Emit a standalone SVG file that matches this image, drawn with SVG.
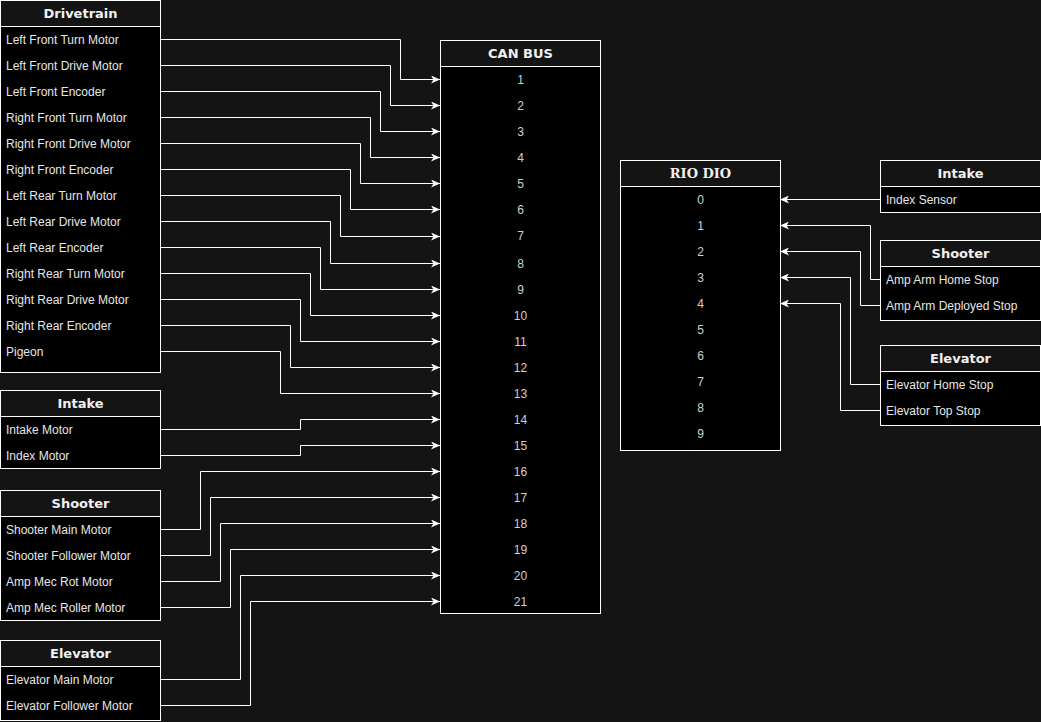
<svg xmlns="http://www.w3.org/2000/svg" width="1041" height="722" viewBox="0 0 1041 722">
<defs>
<marker id="arr" markerWidth="10" markerHeight="8" refX="9" refY="4" orient="auto" markerUnits="userSpaceOnUse">
<path d="M0,0 L9,4 L0,8 L2.5,4 Z" fill="#ffffff"/>
</marker>
<style>
.hdr{fill:#141414;stroke:#ffffff;stroke-width:1}
.body{fill:#000000;stroke:#ffffff;stroke-width:1}
.ht{font-family:"DejaVu Sans",Verdana,sans-serif;font-weight:bold;font-size:13px;fill:#f0f0f0;text-anchor:middle}
.hs{font-family:"DejaVu Serif",serif;font-weight:bold;font-size:13px;fill:#f0f0f0;text-anchor:middle}
.rt{font-family:"Liberation Sans",Arial,sans-serif;font-size:12px;fill:#e6e6e6}
.nt{font-family:"Liberation Sans",Arial,sans-serif;font-size:12px;fill:#d0d0d0;text-anchor:middle}
.c{fill:none;stroke:#ffffff;stroke-width:1}
.ca{fill:none;stroke:#ffffff;stroke-width:1;marker-end:url(#arr)}
</style>
</defs>
<rect width="1041" height="722" fill="#141414"/>

<g id="connectors">
<path class="ca" d="M160,39.5H400.5V79.5H440"/>
<path class="ca" d="M160,65.5H390.5V105.5H440"/>
<path class="ca" d="M160,91.5H380.5V131.5H440"/>
<path class="ca" d="M160,117.5H370.5V157.5H440"/>
<path class="ca" d="M160,143.5H360.5V183.5H440"/>
<path class="ca" d="M160,169.5H350.5V209.5H440"/>
<path class="ca" d="M160,195.5H340.5V236.5H440"/>
<path class="ca" d="M160,221.5H330.5V263.5H440"/>
<path class="ca" d="M160,247.5H320.5V289.5H440"/>
<path class="ca" d="M160,273.5H310.5V315.5H440"/>
<path class="ca" d="M160,299.5H300.5V341.5H440"/>
<path class="ca" d="M160,325.5H290.5V367.5H440"/>
<path class="ca" d="M160,351.5H280.5V393.5H440"/>
<path class="ca" d="M160,429.5H300.5V419.5H440"/>
<path class="ca" d="M160,455.5H300.5V445.5H440"/>
<path class="ca" d="M160,529.5H200.5V471.5H440"/>
<path class="ca" d="M160,555.5H210.5V497.5H440"/>
<path class="ca" d="M160,581.5H220.5V523.5H440"/>
<path class="ca" d="M160,607.5H230.5V549.5H440"/>
<path class="ca" d="M160,679.5H240.5V575.5H440"/>
<path class="ca" d="M160,705.5H250.5V601.5H440"/>
<path class="ca" d="M880,199.5H780"/>
<path class="ca" d="M880,279.5H870.5V225.5H780"/>
<path class="ca" d="M880,305.5H860.5V251.5H780"/>
<path class="ca" d="M880,384.5H850.5V277.5H780"/>
<path class="ca" d="M880,410.5H840.5V303.5H780"/>
</g>

<g id="drivetrain">
<rect class="body" x="0.5" y="26.5" width="160" height="346"/>
<rect class="hdr" x="0.5" y="0.5" width="160" height="26"/>
<text class="ht" x="80.5" y="18">Drivetrain</text>
<text class="rt" x="6" y="44">Left Front Turn Motor</text>
<text class="rt" x="6" y="70">Left Front Drive Motor</text>
<text class="rt" x="6" y="96">Left Front Encoder</text>
<text class="rt" x="6" y="122">Right Front Turn Motor</text>
<text class="rt" x="6" y="148">Right Front Drive Motor</text>
<text class="rt" x="6" y="174">Right Front Encoder</text>
<text class="rt" x="6" y="200">Left Rear Turn Motor</text>
<text class="rt" x="6" y="226">Left Rear Drive Motor</text>
<text class="rt" x="6" y="252">Left Rear Encoder</text>
<text class="rt" x="6" y="278">Right Rear Turn Motor</text>
<text class="rt" x="6" y="304">Right Rear Drive Motor</text>
<text class="rt" x="6" y="330">Right Rear Encoder</text>
<text class="rt" x="6" y="356">Pigeon</text>
</g>

<g id="intake-left">
<rect class="body" x="0.5" y="416.5" width="160" height="52"/>
<rect class="hdr" x="0.5" y="390.5" width="160" height="26"/>
<text class="ht" x="80.5" y="408">Intake</text>
<text class="rt" x="6" y="434">Intake Motor</text>
<text class="rt" x="6" y="460">Index Motor</text>
</g>

<g id="shooter-left">
<rect class="body" x="0.5" y="516.5" width="160" height="104"/>
<rect class="hdr" x="0.5" y="490.5" width="160" height="26"/>
<text class="ht" x="80.5" y="508">Shooter</text>
<text class="rt" x="6" y="534">Shooter Main Motor</text>
<text class="rt" x="6" y="560">Shooter Follower Motor</text>
<text class="rt" x="6" y="586">Amp Mec Rot Motor</text>
<text class="rt" x="6" y="612">Amp Mec Roller Motor</text>
</g>

<g id="elevator-left">
<rect class="body" x="0.5" y="666.5" width="160" height="54"/>
<rect class="hdr" x="0.5" y="640.5" width="160" height="26"/>
<text class="ht" x="80.5" y="658">Elevator</text>
<text class="rt" x="6" y="684">Elevator Main Motor</text>
<text class="rt" x="6" y="710">Elevator Follower Motor</text>
</g>

<g id="can-bus">
<rect class="body" x="440.5" y="66.5" width="160" height="547"/>
<rect class="hdr" x="440.5" y="40.5" width="160" height="26"/>
<text class="ht" x="520.5" y="58">CAN BUS</text>
<text class="nt" x="520.5" y="84">1</text>
<text class="nt" x="520.5" y="110">2</text>
<text class="nt" x="520.5" y="136">3</text>
<text class="nt" x="520.5" y="162">4</text>
<text class="nt" x="520.5" y="188">5</text>
<text class="nt" x="520.5" y="214">6</text>
<text class="nt" x="520.5" y="240">7</text>
<text class="nt" x="520.5" y="268">8</text>
<text class="nt" x="520.5" y="294">9</text>
<text class="nt" x="520.5" y="320">10</text>
<text class="nt" x="520.5" y="346">11</text>
<text class="nt" x="520.5" y="372">12</text>
<text class="nt" x="520.5" y="398">13</text>
<text class="nt" x="520.5" y="424">14</text>
<text class="nt" x="520.5" y="450">15</text>
<text class="nt" x="520.5" y="476">16</text>
<text class="nt" x="520.5" y="502">17</text>
<text class="nt" x="520.5" y="528">18</text>
<text class="nt" x="520.5" y="554">19</text>
<text class="nt" x="520.5" y="580">20</text>
<text class="nt" x="520.5" y="606">21</text>
</g>

<g id="rio-dio">
<rect class="body" x="620.5" y="186.5" width="160" height="264"/>
<rect class="hdr" x="620.5" y="160.5" width="160" height="26"/>
<text class="hs" x="700.5" y="178">RIO DIO</text>
<text class="nt" x="700.5" y="204">0</text>
<text class="nt" x="700.5" y="230">1</text>
<text class="nt" x="700.5" y="256">2</text>
<text class="nt" x="700.5" y="282">3</text>
<text class="nt" x="700.5" y="308">4</text>
<text class="nt" x="700.5" y="334">5</text>
<text class="nt" x="700.5" y="360">6</text>
<text class="nt" x="700.5" y="386">7</text>
<text class="nt" x="700.5" y="412">8</text>
<text class="nt" x="700.5" y="438">9</text>
</g>

<g id="intake-right">
<rect class="body" x="880.5" y="186.5" width="160" height="26"/>
<rect class="hdr" x="880.5" y="160.5" width="160" height="26"/>
<text class="ht" x="960.5" y="178">Intake</text>
<text class="rt" x="886" y="204">Index Sensor</text>
</g>

<g id="shooter-right">
<rect class="body" x="880.5" y="266.5" width="160" height="54"/>
<rect class="hdr" x="880.5" y="240.5" width="160" height="26"/>
<text class="ht" x="960.5" y="258">Shooter</text>
<text class="rt" x="886" y="284">Amp Arm Home Stop</text>
<text class="rt" x="886" y="310">Amp Arm Deployed Stop</text>
</g>

<g id="elevator-right">
<rect class="body" x="880.5" y="371.5" width="160" height="54"/>
<rect class="hdr" x="880.5" y="345.5" width="160" height="26"/>
<text class="ht" x="960.5" y="363">Elevator</text>
<text class="rt" x="886" y="389">Elevator Home Stop</text>
<text class="rt" x="886" y="415">Elevator Top Stop</text>
</g>
</svg>
